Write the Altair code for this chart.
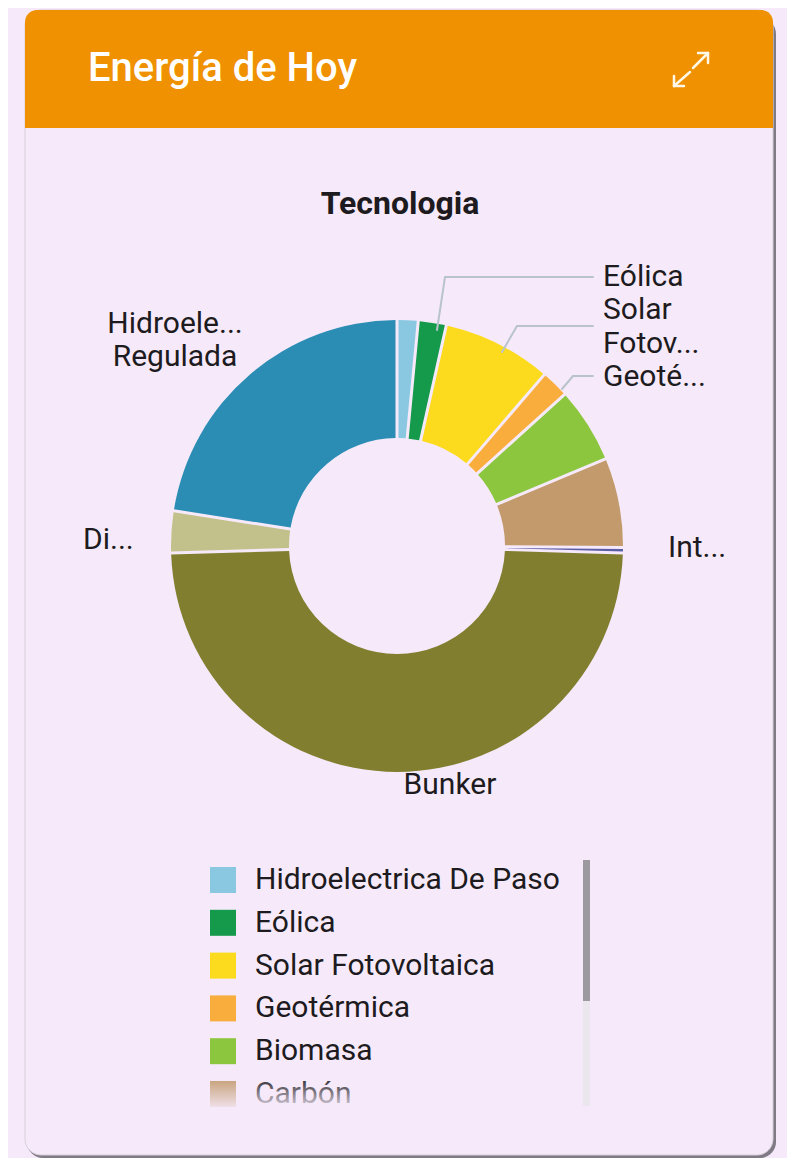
import altair as alt
import pandas as pd

# ---- data ----
categories = [
    "Hidroelectrica De Paso", "Eólica", "Solar Fotovoltaica", "Geotérmica",
    "Biomasa", "Carbón", "Interconexión", "Bunker", "Diésel",
    "Hidroelectrica Regulada",
]
shares = [1.5, 2.0, 7.8, 2.0, 5.4, 6.4, 0.4, 49.0, 3.0, 22.5]
colors = [
    "#8ac8e2", "#15994a", "#fcdb1e", "#f9ad3d", "#8cc63f", "#c29a6c",
    "#5b5ea6", "#817f2f", "#c3c18b", "#2b8cb4",
]
legend_shown = categories[:6]
pie_labels = {
    "eol": ["Eólica"],
    "sol": ["Solar", "Fotov..."],
    "geo": ["Geoté..."],
    "hid": ["Hidroele...", "Regulada"],
    "die": ["Di..."],
    "int": ["Int..."],
    "bun": ["Bunker"],
}
card_title = "Energía de Hoy"
chart_title = "Tecnologia"

df = pd.DataFrame({"tecnologia": categories, "valor": shares,
                   "orden": list(range(len(categories)))})
df_leg = df[df["tecnologia"].isin(legend_shown)]

BG = "#f6eafa"
TXT = "#1d1b20"
FONT = "Roboto"
color_scale = alt.Scale(domain=categories, range=colors)

one = alt.Data(values=[{}])


def box(x1, y1, x2, y2, fill, **kw):
    return alt.Chart(one).mark_rect(fill=fill, **kw).encode(
        x=alt.value(x1), x2=alt.value(x2), y=alt.value(y1), y2=alt.value(y2))


def seg(x1, y1, x2, y2, color, width):
    return alt.Chart(one).mark_rule(color=color, strokeWidth=width, strokeCap="round").encode(
        x=alt.value(x1), x2=alt.value(x2), y=alt.value(y1), y2=alt.value(y2))


def txt(s, x, y, size=30, color=TXT, weight="normal", align="left"):
    return alt.Chart(one).mark_text(text=s, font=FONT, fontSize=size, color=color,
                                    fontWeight=weight, align=align, baseline="middle").encode(
        x=alt.value(x), y=alt.value(y))


layers = []
# card shadow + card
layers.append(box(19, 10, 768, 1150, "#6b6670", cornerRadius=16, opacity=0.85))
layers.append(box(17, 2, 765, 1147, BG, cornerRadius=16, stroke="#d6cfd9", strokeWidth=1))
# header
layers.append(box(17, 2, 765, 120, "#ef9100", cornerRadiusTopLeft=12, cornerRadiusTopRight=12))
layers.append(txt(card_title, 80, 61, size=40, color="#ffffff", weight=500))
# expand icon
W = "#fff8e8"
for (a, b, c, d) in [
    (685, 60, 700, 45), (690, 45, 700, 45), (700, 45, 700, 55),
    (682, 64, 666, 78), (666, 68, 666, 78), (666, 78, 676, 78),
]:
    layers.append(seg(a, b, c, d, W, 2.5))

# chart title
layers.append(txt(chart_title, 392, 196, size=32, weight="bold", align="center"))

# donut
pie = alt.Chart(df).mark_arc(innerRadius=108, outerRadius=226, padAngle=0.012).encode(
    theta=alt.Theta("valor:Q", stack=True),
    order=alt.Order("orden:Q"),
    color=alt.Color("tecnologia:N", scale=color_scale, legend=None),
    x=alt.value(389), y=alt.value(538),
)
layers.append(pie)

# leader lines
L = "#b9c3cb"
for (a, b, c, d) in [
    (429, 322, 437, 269), (437, 269, 585, 269),
    (494, 344, 509, 318), (509, 318, 585, 318),
    (554, 381, 565, 368), (565, 368, 585, 368),
]:
    layers.append(seg(a, b, c, d, L, 2))

# pie labels
layers.append(txt(pie_labels["eol"][0], 595, 269))
layers.append(txt(pie_labels["sol"][0], 595, 302))
layers.append(txt(pie_labels["sol"][1], 595, 336))
layers.append(txt(pie_labels["geo"][0], 595, 369))
layers.append(txt(pie_labels["hid"][0], 167, 316, align="center"))
layers.append(txt(pie_labels["hid"][1], 167, 349, align="center"))
layers.append(txt(pie_labels["die"][0], 75, 532))
layers.append(txt(pie_labels["int"][0], 660, 540))
layers.append(txt(pie_labels["bun"][0], 442, 777, align="center"))

# legend (scrollable list look)
ly = alt.Y("tecnologia:N", scale=alt.Scale(type="point", domain=legend_shown,
                                           range=[872, 1086], padding=0), axis=None)
leg_sq = alt.Chart(df_leg).mark_square(size=676, opacity=1).encode(
    x=alt.value(215), y=ly,
    color=alt.Color("tecnologia:N", scale=color_scale, legend=None))
leg_tx = alt.Chart(df_leg).mark_text(align="left", baseline="middle", font=FONT,
                                     fontSize=30, color=TXT).encode(
    x=alt.value(247), y=ly, text="tecnologia:N")
layers += [leg_sq, leg_tx]

# scrollbar
layers.append(box(575, 852, 582, 1098, "#ebe6ee"))
layers.append(box(575, 852, 582, 993, "#9c9a9e"))

# fade at bottom of list
layers.append(alt.Chart(one).mark_rect(fill={
    "gradient": "linear", "x1": 0, "y1": 0, "x2": 0, "y2": 1,
    "stops": [{"offset": 0, "color": "rgba(246,234,250,0)"},
              {"offset": 1, "color": "rgba(246,234,250,1)"}]}).encode(
    x=alt.value(195), x2=alt.value(572), y=alt.value(1068), y2=alt.value(1104)))

chart = alt.layer(*layers).properties(
    width=779, height=1150, background=BG, padding=0, autosize="none"
).configure_view(strokeWidth=0)

chart.save("out.html", embed_options={"renderer": "svg", "actions": False})
